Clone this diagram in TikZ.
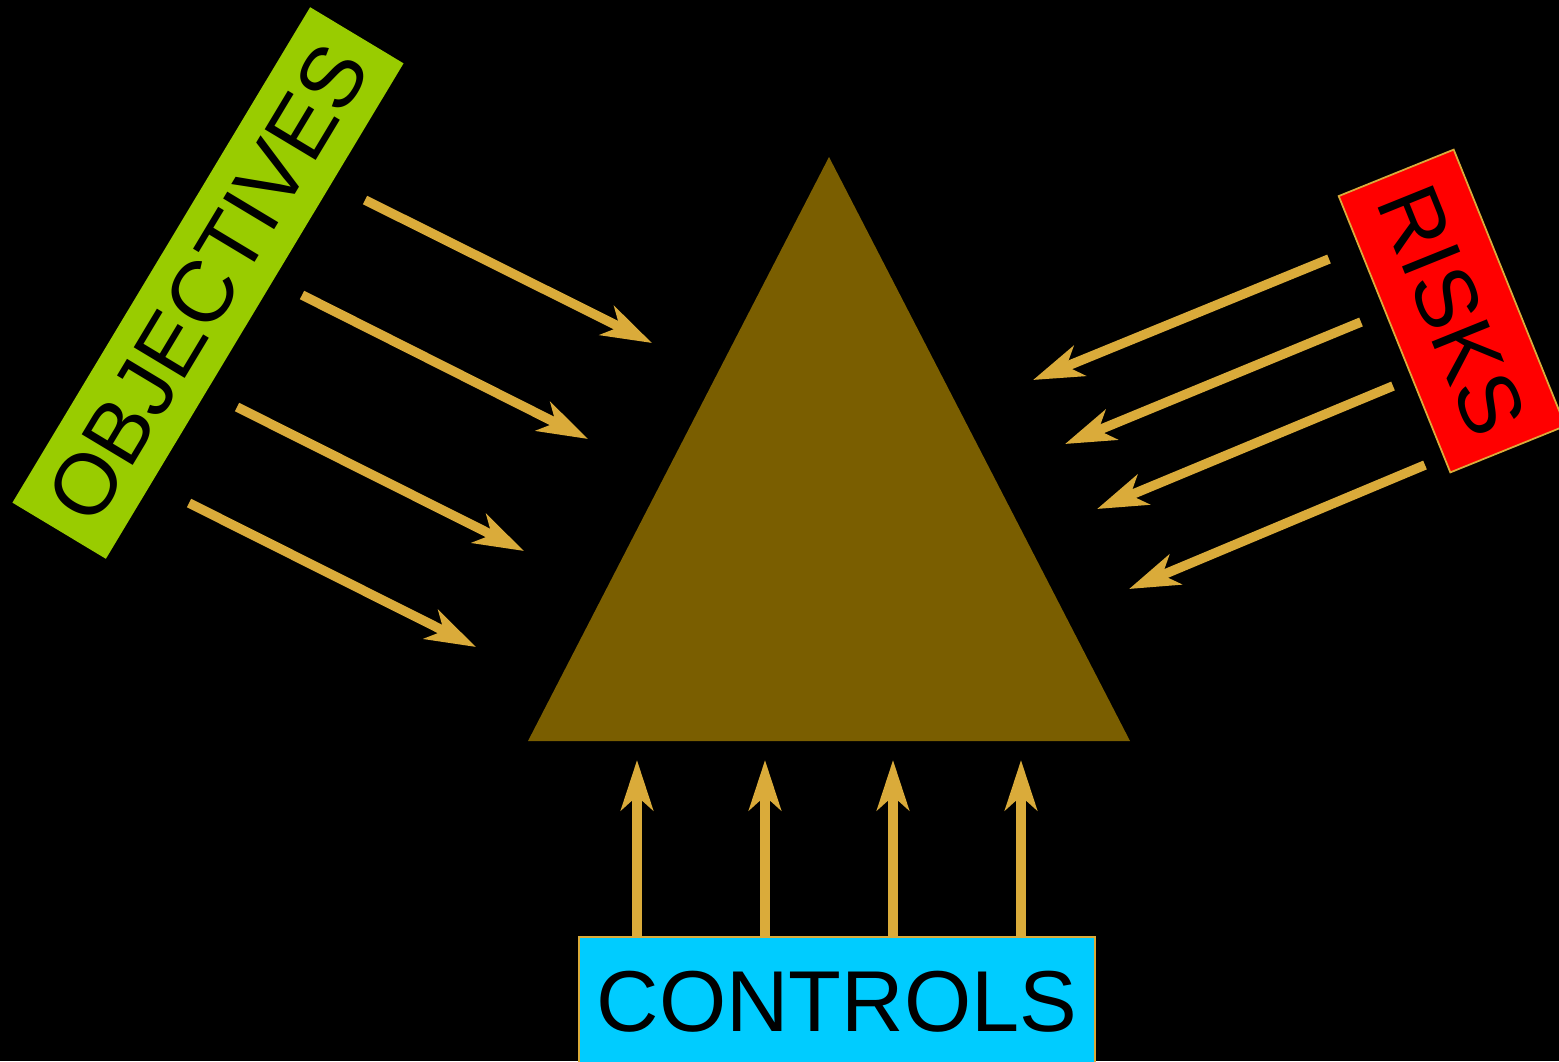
\documentclass[tikz,border=0pt]{standalone}
\usepackage{fontspec}
\setmainfont{Liberation Sans}
\usetikzlibrary{arrows.meta}

\definecolor{gold}{RGB}{218,171,58}
\definecolor{mud}{RGB}{122,94,0}
\definecolor{lime}{RGB}{153,204,0}
\definecolor{sky}{RGB}{0,204,255}

\begin{document}
\begin{tikzpicture}[
    label box/.style={minimum width=#1, inner sep=0pt, font=\fontsize{24.6}{28}\selectfont},
    push/.style={gold, line width=0.095cm, -{Stealth[length=0.5cm, width=0.32cm, inset=0.14cm]}}
]

% Background
\fill[black] (0,0) rectangle (15.59,10.61);
\useasboundingbox (0,0) rectangle (15.59,10.61);

% Triangle
\fill[mud] (5.28,3.20) -- (8.29,9.04) -- (11.30,3.20) -- cycle;

% Boxes
\node[label box=5.78cm, minimum height=1.09cm, fill=lime, rotate=59] (obj) at (2.08,7.78) {OBJECTIVES};
\node[label box=2.98cm, minimum height=1.24cm, fill=red, draw=gold, line width=0.5pt, rotate=-68] (risk) at (14.52,7.50) {RISKS};
\node[label box=5.16cm, minimum height=1.30cm, fill=sky, draw=gold, line width=0.5pt] (ctrl) at (8.37,0.59) {CONTROLS};

% Arrow ends
\coordinate (oa1) at (3.65,8.61); \coordinate (ob1) at (6.52,7.18);
\coordinate (oa2) at (3.02,7.66); \coordinate (ob2) at (5.88,6.22);
\coordinate (oa3) at (2.37,6.54); \coordinate (ob3) at (5.24,5.10);
\coordinate (oa4) at (1.89,5.58); \coordinate (ob4) at (4.76,4.14);

\coordinate (ra1) at (13.29,8.02); \coordinate (rb1) at (10.33,6.81);
\coordinate (ra2) at (13.61,7.39); \coordinate (rb2) at (10.65,6.17);
\coordinate (ra3) at (13.93,6.75); \coordinate (rb3) at (10.97,5.52);
\coordinate (ra4) at (14.25,5.96); \coordinate (rb4) at (11.29,4.72);

\coordinate (ca1) at (6.37,1.24); \coordinate (cb1) at (6.37,3.01);
\coordinate (ca2) at (7.65,1.24); \coordinate (cb2) at (7.65,3.01);
\coordinate (ca3) at (8.93,1.24); \coordinate (cb3) at (8.93,3.01);
\coordinate (ca4) at (10.21,1.24); \coordinate (cb4) at (10.21,3.01);

% Objectives arrows
\draw[push] (oa1) -- (ob1);
\draw[push] (oa2) -- (ob2);
\draw[push] (oa3) -- (ob3);
\draw[push] (oa4) -- (ob4);

% Risks arrows
\draw[push] (ra1) -- (rb1);
\draw[push] (ra2) -- (rb2);
\draw[push] (ra3) -- (rb3);
\draw[push] (ra4) -- (rb4);

% Controls arrows
\draw[push] (ca1) -- (cb1);
\draw[push] (ca2) -- (cb2);
\draw[push] (ca3) -- (cb3);
\draw[push] (ca4) -- (cb4);

\end{tikzpicture}
\end{document}
